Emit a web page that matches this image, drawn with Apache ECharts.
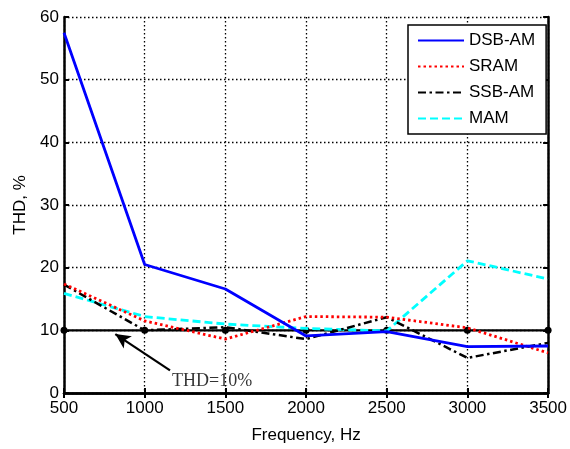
<!DOCTYPE html>
<html>
<head>
<meta charset="utf-8">
<script src="https://cdn.jsdelivr.net/npm/echarts@6/dist/echarts.min.js"></script>
<style>html,body{margin:0;padding:0;background:#fff}#c{width:570px;height:449px}</style>
</head>
<body>
<div id="c"></div>
<script>
const frequencies = [500, 1000, 1500, 2000, 2500, 3000, 3500];
const dsbAM = [57.5, 20.5, 16.6, 9.1, 9.8, 7.4, 7.5];
const sram  = [17.4, 11.5, 8.6, 12.2, 12.1, 10.4, 6.4];
const ssbAM = [17.3, 10.0, 10.5, 8.6, 12.1, 5.6, 8.0];
const mam   = [15.9, 12.2, 11.0, 10.3, 9.9, 21.1, 18.2];
const thdLevel = 10;
const xTicks = [500, 1000, 1500, 2000, 2500, 3000, 3500];
const yTicks = [0, 10, 20, 30, 40, 50, 60];
const arrowTail = [1157, 3.6];
const arrowHead = [818, 9.4];
const noteAnchor = [1170, 1.9];
const noteText = 'THD=10%';

const pair = (vals) => frequencies.map((f, i) => [f, vals[i]]);
const font = 'Liberation Sans, Arial, sans-serif';

const chart = echarts.init(document.getElementById('c'), null, {renderer: 'canvas'});
const baseAxisLine = {show: true, lineStyle: {color: '#000', width: 2.5}};
const tick = {show: true, inside: true, length: 5, lineStyle: {color: '#000', width: 2}};
const grid = {show: true, lineStyle: {color: '#000', type: [1.5, 2.5], width: 1.3}};
chart.setOption({
  animation: false,
  backgroundColor: '#fff',
  grid: {left: 64, right: 21, top: 17, bottom: 49, containLabel: false},
  xAxis: [{
    type: 'value', min: xTicks[0], max: xTicks[xTicks.length - 1], interval: 500,
    axisLine: baseAxisLine, axisTick: tick,
    axisLabel: {color: '#000', fontFamily: font, fontSize: 17, margin: 7, formatter: v => String(v)},
    splitLine: grid,
    name: 'Frequency, Hz', nameLocation: 'middle', nameGap: 34,
    nameTextStyle: {color: '#000', fontFamily: font, fontSize: 17}
  }, {
    type: 'value', position: 'top', min: xTicks[0], max: xTicks[xTicks.length - 1], interval: 500,
    axisLine: baseAxisLine, axisTick: tick,
    axisLabel: {show: false}, splitLine: {show: false}
  }],
  yAxis: [{
    type: 'value', min: yTicks[0], max: yTicks[yTicks.length - 1], interval: 10,
    axisLine: baseAxisLine, axisTick: tick,
    axisLabel: {color: '#000', fontFamily: font, fontSize: 17, margin: 5, formatter: v => String(v)},
    splitLine: grid,
    name: 'THD, %', nameLocation: 'middle', nameGap: 35,
    nameTextStyle: {color: '#000', fontFamily: font, fontSize: 17}
  }, {
    type: 'value', position: 'right', min: yTicks[0], max: yTicks[yTicks.length - 1], interval: 10,
    axisLine: baseAxisLine, axisTick: tick,
    axisLabel: {show: false}, splitLine: {show: false}
  }],
  legend: {
    data: ['DSB-AM', 'SRAM', 'SSB-AM', 'MAM'],
    orient: 'vertical', left: 408, top: 25,
    itemWidth: 46, itemHeight: 14, itemGap: 9,
    padding: [7, 11, 7, 9],
    backgroundColor: '#fff', borderColor: '#000', borderWidth: 1.5, borderRadius: 0,
    textStyle: {color: '#000', fontFamily: font, fontSize: 17, lineHeight: 14, padding: [0,0,0,0]},
    itemStyle: {opacity: 0}
  },
  series: [
    {
      name: 'THD level', type: 'line', data: frequencies.map(f => [f, thdLevel]),
      symbol: 'circle', symbolSize: 7, itemStyle: {color: '#000'},
      lineStyle: {color: '#000', width: 2.2}, z: 1,
      markLine: {
        silent: true, symbol: ['none', 'arrow'], symbolSize: [11, 15],
        label: {show: false},
        lineStyle: {color: '#000', width: 2.2, type: 'solid'},
        data: [[{coord: arrowTail}, {coord: arrowHead}]]
      }
    },
    {
      name: 'DSB-AM', type: 'line', data: pair(dsbAM), symbol: 'none', z: 5,
      itemStyle: {color: '#0000ff'}, lineStyle: {color: '#0000ff', width: 2.8}
    },
    {
      name: 'SRAM', type: 'line', data: pair(sram), symbol: 'none', z: 4,
      itemStyle: {color: '#ff0000'}, lineStyle: {color: '#ff0000', width: 2.8, type: [2.5, 3]}
    },
    {
      name: 'SSB-AM', type: 'line', data: pair(ssbAM), symbol: 'none', z: 3,
      itemStyle: {color: '#000'}, lineStyle: {color: '#000', width: 2.5, type: [8, 3.5, 2.5, 3.5]}
    },
    {
      name: 'MAM', type: 'line', data: pair(mam), symbol: 'none', z: 2,
      itemStyle: {color: '#00ffff'}, lineStyle: {color: '#00ffff', width: 2.8, type: [8, 4]}
    },
    {
      name: 'note', type: 'scatter', data: [noteAnchor], symbolSize: 0, silent: true,
      label: {show: true, formatter: noteText, position: 'right', distance: 0,
        color: '#000', fontFamily: 'Liberation Serif, Times New Roman, serif', fontSize: 18}
    }
  ]
});
</script>
</body>
</html>
